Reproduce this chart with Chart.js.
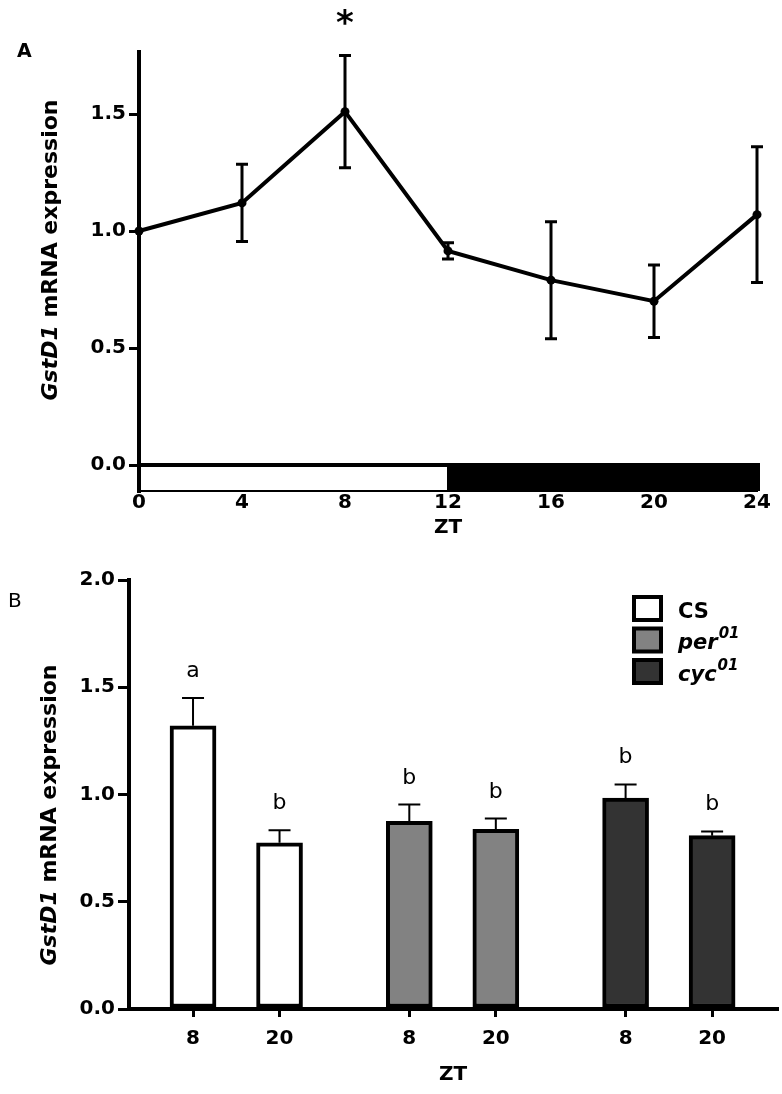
<!DOCTYPE html>
<html>
<head>
<meta charset="utf-8">
<title>GstD1 mRNA expression</title>
<script src="https://cdn.jsdelivr.net/npm/chart.js@4.4.1/dist/chart.umd.min.js"></script>
<style>
  html, body { margin: 0; padding: 0; background: #fff; }
  #wrap { position: relative; width: 782px; height: 1094px; }
  canvas { position: absolute; left: 0; }
  #panelA { top: 0; }
  #panelB { top: 540px; }
</style>
</head>
<body>
<div id="wrap">
  <canvas id="panelA" width="782" height="540"></canvas>
  <canvas id="panelB" width="782" height="554"></canvas>
</div>
<script>
// Panel A - GstD1 over the day (LD)
const ztHours = [0, 4, 8, 12, 16, 20, 24];
const meanExpr = [1.0, 1.12, 1.51, 0.915, 0.79, 0.70, 1.07];
const semExpr = [0, 0.165, 0.24, 0.035, 0.25, 0.155, 0.29];
const sigMarks = ['', '', '*', '', '', '', ''];
const lightPhase = [0, 12];
const darkPhase = [12, 24];
const ticksA = [0, 0.5, 1.0, 1.5];

// Panel B - genotypes at ZT8 and ZT20
const genotypes = ['CS', 'per', 'cyc'];
const genotypeSup = ['', '01', '01'];
const barZT = ['8', '20'];
const csValues = [1.32, 0.775];
const perValues = [0.875, 0.838];
const cycValues = [0.983, 0.808];
const csSem = [0.13, 0.058];
const perSem = [0.078, 0.05];
const cycSem = [0.064, 0.02];
const csLetters = ['a', 'b'];
const perLetters = ['b', 'b'];
const cycLetters = ['b', 'b'];

const groupValues = [csValues, perValues, cycValues];
const groupSem = [csSem, perSem, cycSem];
const groupLetters = [csLetters, perLetters, cycLetters];
const barFills = ['#ffffff', '#828282', '#333333'];

const FONT = '"DejaVu Sans", "Liberation Sans", Arial, sans-serif';
const GROUP_STEP = 2.5;   // extra space between genotype groups

// bar slot for genotype g, time i
const slot = (g, i) => g * GROUP_STEP + i;
const tickPos = [];
const tickText = [];
genotypes.forEach((g, gi) => barZT.forEach((z, i) => { tickPos.push(slot(gi, i)); tickText.push(z); }));

function drawYTitle(ctx, cx, cy) {
  const italic = 'italic bold 22px ' + FONT;
  const plain = 'bold 22px ' + FONT;
  ctx.save();
  ctx.translate(cx, cy);
  ctx.rotate(-Math.PI / 2);
  ctx.fillStyle = '#000';
  ctx.textBaseline = 'middle';
  ctx.textAlign = 'left';
  ctx.font = italic;
  const w1 = ctx.measureText('GstD1').width;
  ctx.font = plain;
  const w2 = ctx.measureText(' mRNA expression').width;
  const sx = -(w1 + w2) / 2;
  ctx.font = italic;
  ctx.fillText('GstD1', sx, 0);
  ctx.font = plain;
  ctx.fillText(' mRNA expression', sx + w1, 0);
  ctx.restore();
}

// light/dark bar, zero line, error bars, labels
const panelAExtras = {
  id: 'panelAExtras',
  beforeDatasetsDraw(chart) {
    const { ctx, scales: { x, y } } = chart;
    const y0 = y.getPixelForValue(0);
    const yb = y.bottom;
    ctx.save();
    ctx.fillStyle = '#000';
    const dx0 = x.getPixelForValue(darkPhase[0]);
    const dx1 = x.getPixelForValue(darkPhase[1]) + 3;
    ctx.fillRect(dx0, y0, dx1 - dx0, yb - y0);
    ctx.strokeStyle = '#000';
    ctx.lineWidth = 2;
    const lx0 = x.getPixelForValue(lightPhase[0]);
    const lx1 = x.getPixelForValue(lightPhase[1]);
    ctx.strokeRect(lx0, y0, lx1 - lx0, yb - y0);
    ctx.lineWidth = 4;
    ctx.beginPath();
    ctx.moveTo(x.left, y0);
    ctx.lineTo(dx1, y0);
    ctx.stroke();
    ctx.restore();
  },
  afterDatasetsDraw(chart) {
    const { ctx, scales: { x, y } } = chart;
    ctx.save();
    ctx.strokeStyle = '#000';
    ctx.lineWidth = 3;
    ztHours.forEach((h, i) => {
      if (!semExpr[i]) return;
      const px = x.getPixelForValue(h);
      const top = y.getPixelForValue(meanExpr[i] + semExpr[i]);
      const bot = y.getPixelForValue(meanExpr[i] - semExpr[i]);
      ctx.beginPath();
      ctx.moveTo(px, top); ctx.lineTo(px, bot);
      ctx.moveTo(px - 6, top); ctx.lineTo(px + 6, top);
      ctx.moveTo(px - 6, bot); ctx.lineTo(px + 6, bot);
      ctx.stroke();
    });
    ctx.fillStyle = '#000';
    ctx.textAlign = 'center';
    ctx.textBaseline = 'alphabetic';
    ctx.font = 'bold 34px ' + FONT;
    sigMarks.forEach((m, i) => {
      if (m) ctx.fillText(m, x.getPixelForValue(ztHours[i]), 34);
    });
    ctx.textAlign = 'left';
    ctx.font = 'bold 19px ' + FONT;
    ctx.fillText('A', 17, 57);
    ctx.restore();
    drawYTitle(ctx, 51, 250);
  }
};

const panelBExtras = {
  id: 'panelBExtras',
  afterDatasetsDraw(chart) {
    const { ctx, scales: { x, y } } = chart;
    ctx.save();
    ctx.strokeStyle = '#000';
    ctx.fillStyle = '#000';
    ctx.lineWidth = 2;
    groupValues.forEach((vals, gi) => {
      vals.forEach((v, i) => {
        const px = x.getPixelForValue(slot(gi, i));
        const base = y.getPixelForValue(v);
        const top = y.getPixelForValue(v + groupSem[gi][i]);
        ctx.beginPath();
        ctx.moveTo(px, base); ctx.lineTo(px, top);
        ctx.moveTo(px - 11, top); ctx.lineTo(px + 11, top);
        ctx.stroke();
        ctx.font = '22px ' + FONT;
        ctx.textAlign = 'center';
        ctx.textBaseline = 'alphabetic';
        ctx.fillText(groupLetters[gi][i], px, top - 21);
      });
    });

    // legend
    genotypes.forEach((g, gi) => {
      const bx = 632, by = 55 + gi * 31.5, bw = 31, bh = 27;
      ctx.fillStyle = '#000';
      ctx.fillRect(bx, by, bw, bh);
      ctx.fillStyle = barFills[gi];
      ctx.fillRect(bx + 4, by + 4, bw - 8, bh - 8);
      ctx.fillStyle = '#000';
      ctx.textAlign = 'left';
      ctx.textBaseline = 'alphabetic';
      const base = by + bh / 2 + 9;
      ctx.font = (genotypeSup[gi] ? 'italic ' : '') + 'bold 21px ' + FONT;
      ctx.fillText(g, 678, base);
      if (genotypeSup[gi]) {
        const w = ctx.measureText(g).width;
        ctx.font = 'italic bold 15px ' + FONT;
        ctx.fillText(genotypeSup[gi], 678 + w + 1, base - 11);
      }
    });

    ctx.font = '20px ' + FONT;
    ctx.textAlign = 'left';
    ctx.fillText('B', 8, 67);
    ctx.restore();
    drawYTitle(ctx, 50, 275);
  }
};

const tickFont = { family: FONT, weight: 'bold', size: 20 };

new Chart(document.getElementById('panelA'), {
  type: 'line',
  data: {
    datasets: [{
      data: ztHours.map((h, i) => ({ x: h, y: meanExpr[i] })),
      borderColor: '#000',
      backgroundColor: '#000',
      borderWidth: 4,
      pointRadius: 4.5,
      pointBackgroundColor: '#000',
      pointBorderWidth: 0,
      tension: 0,
      clip: false
    }]
  },
  options: {
    responsive: false,
    animation: false,
    layout: { padding: { top: 52, right: 25, left: 0, bottom: 0 } },
    plugins: { legend: { display: false }, tooltip: { enabled: false } },
    scales: {
      x: {
        type: 'linear', min: 0, max: 24,
        ticks: { stepSize: 4, autoSkip: false, font: tickFont, color: '#000', padding: 0, maxRotation: 0 },
        grid: { display: false, drawTicks: false },
        border: { display: true, width: 2, color: '#000' },
        title: { display: true, text: 'ZT', font: tickFont, color: '#000', padding: { top: 0, bottom: 0 } },
        afterFit: s => { s.height = 49; }
      },
      y: {
        min: -0.111, max: 1.765,
        afterBuildTicks: s => { s.ticks = ticksA.map(v => ({ value: v })); },
        ticks: { font: tickFont, color: '#000', padding: 3, callback: v => v.toFixed(1) },
        grid: { display: true, drawOnChartArea: false, drawTicks: true, tickLength: 10, lineWidth: 3, color: '#000' },
        border: { display: true, width: 4, color: '#000' },
        afterFit: s => { s.width = 139; }
      }
    }
  },
  plugins: [panelAExtras]
});

new Chart(document.getElementById('panelB'), {
  type: 'bar',
  data: {
    datasets: genotypes.map((g, gi) => ({
      label: g,
      data: groupValues[gi].map((v, i) => ({ x: slot(gi, i), y: v })),
      backgroundColor: barFills[gi],
      borderColor: '#000',
      borderWidth: 4,
      borderSkipped: false,
      barThickness: 46,
      grouped: false
    }))
  },
  options: {
    responsive: false,
    animation: false,
    layout: { padding: { top: 40, right: 5, left: 0, bottom: 0 } },
    plugins: { legend: { display: false }, tooltip: { enabled: false } },
    scales: {
      x: {
        type: 'linear', min: -0.74, max: 6.75, offset: false,
        afterBuildTicks: s => { s.ticks = tickPos.map(v => ({ value: v })); },
        ticks: { autoSkip: false, font: tickFont, color: '#000', padding: 10, maxRotation: 0,
                 callback: (v, idx) => tickText[idx] },
        grid: { display: true, offset: false, drawOnChartArea: false, drawTicks: true, tickLength: 8, lineWidth: 3, color: '#000' },
        border: { display: true, width: 4, color: '#000' },
        title: { display: true, text: 'ZT', font: tickFont, color: '#000', padding: { top: 0, bottom: 7 } },
        afterFit: s => { s.height = 85; }
      },
      y: {
        min: 0, max: 2,
        ticks: { stepSize: 0.5, font: tickFont, color: '#000', padding: 3, callback: v => v.toFixed(1) },
        grid: { display: true, drawOnChartArea: false, drawTicks: true, tickLength: 11, lineWidth: 3, color: '#000' },
        border: { display: true, width: 4, color: '#000' },
        afterFit: s => { s.width = 129; }
      }
    }
  },
  plugins: [panelBExtras]
});
</script>
</body>
</html>
